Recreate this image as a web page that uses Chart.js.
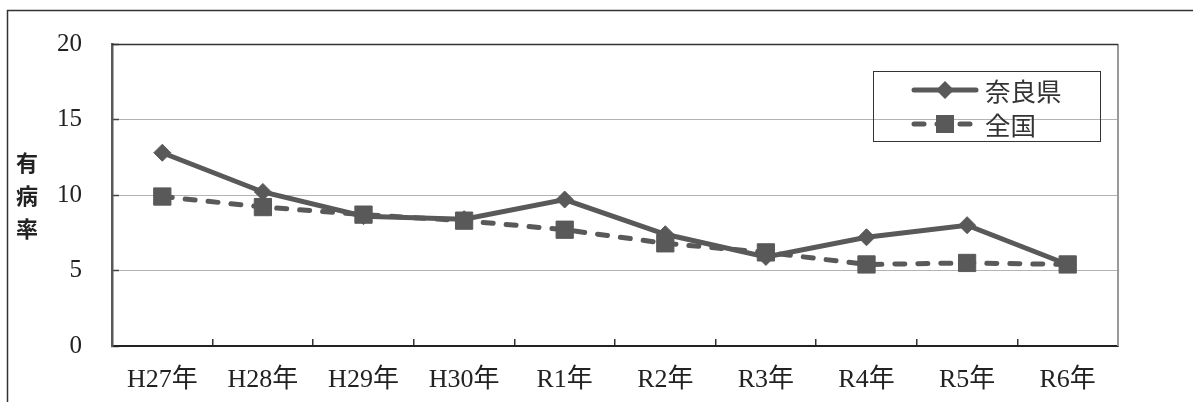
<!DOCTYPE html>
<html>
<head>
<meta charset="utf-8">
<script src="https://cdn.jsdelivr.net/npm/chart.js@4.4.1/dist/chart.umd.min.js"></script>
<style>
  html, body { margin: 0; padding: 0; background: #fff; }
  #wrap { width: 1193px; height: 402px; }
</style>
</head>
<body>
<div id="wrap"><canvas id="myChart" width="1193" height="402"></canvas></div>
<script>
const categories = ["H27年", "H28年", "H29年", "H30年", "R1年", "R2年", "R3年", "R4年", "R5年", "R6年"];
const naraValues = [12.8, 10.2, 8.6, 8.4, 9.7, 7.4, 5.9, 7.2, 8.0, 5.4];
const nationalValues = [9.9, 9.2, 8.7, 8.3, 7.7, 6.8, 6.2, 5.4, 5.5, 5.4];
const seriesNames = ["奈良県", "全国"];
const yTicks = [0, 5, 10, 15, 20];
const yTitleChars = ["有", "病", "率"];

const LINE = "#595959";
const TEXT = "#222";
const labelFont = '"Liberation Serif", "Noto Sans CJK JP", serif';

document.addEventListener("DOMContentLoaded", () => {
    const ctx = document.getElementById("myChart").getContext("2d");

    // outer frame, plot top/right border, y title
    const framePlugin = {
        id: "frame",
        beforeDraw: (chart) => {
            const c = chart.ctx;
            c.save();
            c.fillStyle = "#fff";
            c.fillRect(0, 0, chart.width, chart.height);
            c.strokeStyle = "#333";
            c.lineWidth = 1.5;
            c.beginPath();
            c.moveTo(7.5, chart.height);
            c.lineTo(7.5, 10.5);
            c.lineTo(chart.width, 10.5);
            c.stroke();

            c.fillStyle = TEXT;
            c.font = 'bold 22px "Noto Sans CJK JP", sans-serif';
            c.textAlign = "center";
            c.textBaseline = "middle";
            yTitleChars.forEach((ch, i) => {
                c.fillText(ch, 27, 163 + i * 33);
            });
            c.restore();
        },
        beforeDatasetsDraw: (chart) => {
            const c = chart.ctx;
            const { top, left, right, bottom } = chart.chartArea;
            c.save();
            c.strokeStyle = "#999";
            c.lineWidth = 2;
            c.beginPath();
            c.moveTo(right, top);
            c.lineTo(right, bottom);
            c.stroke();
            c.strokeStyle = "#333";
            c.lineWidth = 1.5;
            c.beginPath();
            c.moveTo(left, top + 0.5);
            c.lineTo(right, top + 0.5);
            c.stroke();
            c.restore();
        },
    };

    function marker(c, style, x, y, r) {
        c.beginPath();
        if (style === "rect") {
            const s = r * Math.SQRT1_2;
            c.rect(x - s, y - s, 2 * s, 2 * s);
        } else {
            c.moveTo(x - r, y);
            c.lineTo(x, y - r);
            c.lineTo(x + r, y);
            c.lineTo(x, y + r);
            c.closePath();
        }
        c.fill();
    }

    const legendPlugin = {
        id: "boxLegend",
        afterDraw: (chart) => {
            const c = chart.ctx;
            c.save();
            c.strokeStyle = "#333";
            c.lineWidth = 1;
            c.strokeRect(873.5, 71.5, 227, 70);
            chart.data.datasets.forEach((ds, i) => {
                const y = 90 + i * 34;
                c.strokeStyle = ds.borderColor;
                c.lineWidth = ds.borderWidth;
                c.lineCap = "round";
                c.setLineDash(ds.borderDash || []);
                c.beginPath();
                c.moveTo(914, y);
                c.lineTo(976, y);
                c.stroke();
                c.setLineDash([]);
                c.fillStyle = ds.pointBackgroundColor;
                marker(c, ds.pointStyle, 945, y, ds.pointRadius + 0.5);
                c.fillStyle = "#333";
                c.font = '25.5px "Noto Sans CJK JP", sans-serif';
                c.textAlign = "left";
                c.textBaseline = "middle";
                c.fillText(ds.label, 985, y + 1);
            });
            c.restore();
        },
    };

    new Chart(ctx, {
        type: "line",
        data: {
            labels: categories,
            datasets: [
                {
                    label: seriesNames[0],
                    data: naraValues,
                    borderColor: LINE,
                    borderWidth: 5,
                    pointStyle: "rectRot",
                    pointRadius: 8.5,
                    pointBackgroundColor: LINE,
                    pointBorderColor: LINE,
                    pointBorderWidth: 1,
                    tension: 0,
                    order: 1,
                },
                {
                    label: seriesNames[1],
                    data: nationalValues,
                    borderColor: LINE,
                    borderWidth: 5,
                    borderDash: [10, 13],
                    borderCapStyle: "round",
                    pointStyle: "rect",
                    pointRadius: 12.2,
                    pointBackgroundColor: LINE,
                    pointBorderColor: LINE,
                    pointBorderWidth: 1,
                    tension: 0,
                    order: 0,
                },
            ],
        },
        options: {
            responsive: false,
            animation: false,
            layout: { padding: { left: 0, top: 44, right: 75, bottom: 0 } },
            plugins: {
                legend: { display: false },
                tooltip: { enabled: false },
            },
            scales: {
                x: {
                    offset: true,
                    grid: {
                        offset: true,
                        drawOnChartArea: false,
                        drawTicks: true,
                        tickLength: -7,
                        color: "#333",
                        lineWidth: 1.5,
                    },
                    border: { display: true, color: "#222", width: 2 },
                    ticks: {
                        color: TEXT,
                        font: { family: labelFont, size: 26 },
                        padding: 26,
                        maxRotation: 0,
                        autoSkip: false,
                    },
                    afterFit: (s) => {
                        s.height = 56;
                        s.paddingLeft = 0;
                        s.paddingRight = 0;
                    },
                },
                y: {
                    min: 0,
                    max: 20,
                    afterBuildTicks: (s) => { s.ticks = yTicks.map((v) => ({ value: v })); },
                    grid: {
                        color: "#666",
                        lineWidth: 1,
                        drawTicks: true,
                        tickLength: -7,
                        tickColor: "#444",
                        tickWidth: 1.5,
                    },
                    border: { display: true, color: LINE, width: 2.5, dash: [1, 1] },
                    ticks: {
                        color: TEXT,
                        font: { family: labelFont, size: 25 },
                        padding: 37,
                    },
                    afterFit: (s) => {
                        s.width = 112;
                        s.paddingTop = 0;
                        s.paddingBottom = 0;
                    },
                },
            },
        },
        plugins: [framePlugin, legendPlugin],
    });
});
</script>
</body>
</html>
